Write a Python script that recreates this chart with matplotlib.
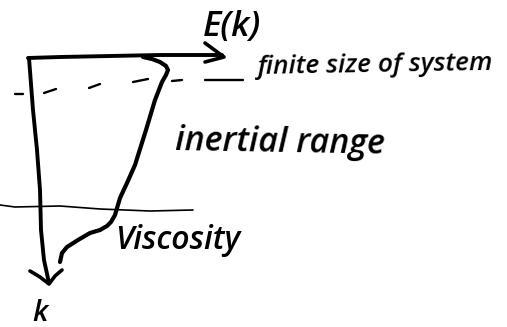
import matplotlib
matplotlib.use("Agg")
import matplotlib.pyplot as plt

W, H = 507, 327

# Hand-drawn strokes
axis_x = [28, 60, 110, 160, 222]
axis_y = [58, 57, 56, 55, 55]
head_x = [205, 224, 205]
head_y = [43, 57, 62]

vaxis_x = [29, 33, 37, 40, 41, 44, 49]
vaxis_y = [58, 110, 150, 190, 230, 260, 283]
vhead_x = [30, 40, 49, 55, 62]
vhead_y = [271, 277, 284, 276, 270]

curve_k = [57, 59, 62, 66, 70, 75, 82, 100, 130, 165, 183, 198, 215, 222, 226, 230, 233, 240, 247, 253, 262]
curve_e = [143, 152, 160, 166, 168, 166, 162, 155, 146, 135, 127, 120, 115, 111, 107, 100, 90, 78, 67, 62, 60]

dash_x = [(15, 23), (44, 56), (89, 100), (133, 148), (172, 182), (205, 243)]
dash_y = [(94, 94), (93, 89), (88, 84), (82, 79), (81, 80), (80, 80)]

visc_x = [0, 15, 60, 100, 150, 193]
visc_y = [205, 207, 206, 209, 211, 210]

labels = ["E(k)", "finite size of system", "inertial range", "Viscosity", "k"]
label_x = [203, 258, 175, 115, 32]
label_y = [36, 74, 150, 249, 321]
label_size = [25, 19, 24.5, 23, 21]
label_rot = [0, 1, -1, 0, 0]

fig = plt.figure(figsize=(W / 100, H / 100), dpi=100)
ax = fig.add_axes([0, 0, 1, 1])
ax.set_xlim(0, W)
ax.set_ylim(H, 0)
ax.axis("off")

style = dict(color="black", solid_capstyle="round", solid_joinstyle="round")
ax.plot(axis_x, axis_y, lw=2.8, **style)
ax.plot(head_x, head_y, lw=2.6, **style)
ax.plot(vaxis_x, vaxis_y, lw=2.8, **style)
ax.plot(vhead_x, vhead_y, lw=2.6, **style)
ax.plot(curve_e, curve_k, lw=3.0, **style)
for xs, ys in zip(dash_x, dash_y):
    ax.plot(xs, ys, lw=1.7, **style)
ax.plot(visc_x, visc_y, lw=1.2, **style)

for s, x, y, fs, r in zip(labels, label_x, label_y, label_size, label_rot):
    ax.text(x, y, s, fontsize=fs, rotation=r, rotation_mode="anchor",
            family="Open Sans", style="italic", weight="semibold",
            ha="left", va="baseline", color="black")

fig.savefig("out.png", dpi=100)
